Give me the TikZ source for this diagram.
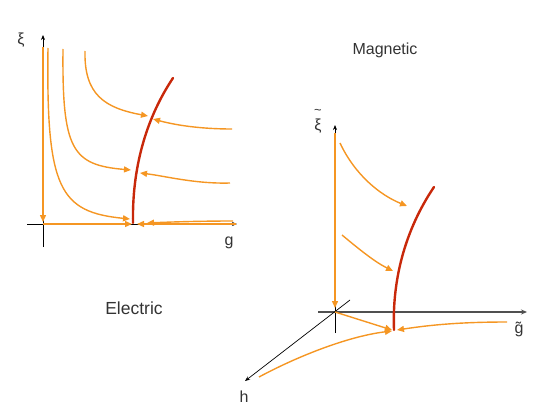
\documentclass[tikz,border=0pt]{standalone}
\usepackage{fontspec}
\setmainfont{Liberation Sans}
\usetikzlibrary{arrows.meta}
\definecolor{flow}{RGB}{245,150,35}
\definecolor{crit}{RGB}{200,40,10}
\definecolor{axgray}{RGB}{80,80,80}
\tikzset{
  axisline/.style={draw=black, line width=0.7pt, -{Stealth[length=5pt,width=4pt]}},
  axisgray/.style={draw=axgray, line width=1.3pt, -{Stealth[length=6pt,width=5pt]}},
  flowline/.style={draw=flow, line width=1.4pt, -{Triangle[length=7pt,width=6pt]}},
  critline/.style={draw=crit, line width=2.4pt, line cap=round},
  lbl/.style={font=\fontsize{16}{18}\selectfont, text=black!80, inner sep=0pt},
  biglbl/.style={font=\fontsize{17.5}{20}\selectfont, text=black!80, inner sep=0pt},
  tildelbl/.style={font=\fontsize{13}{14}\selectfont, text=black!80, inner sep=0pt},
}
\begin{document}
\begin{tikzpicture}[x=1pt,y=-1pt]
\useasboundingbox (0,0) rectangle (545,409);
% ---------------- left panel (Electric) ----------------
\coordinate (LgS) at (27,224);   \coordinate (LgE) at (237,224);
\coordinate (LxS) at (43,247);   \coordinate (LxE) at (43,35);
\draw[axisline] (LgS) -- (LgE);
\draw[axisline] (LxS) -- (LxE);
\coordinate (LvS) at (43,47);  \coordinate (LvE) at (43,222);
\coordinate (LO) at (43,224);  \coordinate (LhE) at (132,224);
\draw[flowline] (LvS) -- (LvE);
\draw[flowline] (LO) -- (LhE);
% left flows from top
\coordinate (a1) at (48,48);  \coordinate (b1) at (130,219);
\coordinate (a2) at (63,49);  \coordinate (b2) at (131,170);
\coordinate (a3) at (85,51);  \coordinate (b3) at (148,116);
\draw[flowline] (a1) .. controls (46,190) and (60,212) .. (b1);
\draw[flowline] (a2) .. controls (62,150) and (72,165) .. (b2);
\draw[flowline] (a3) .. controls (84,95) and (105,108) .. (b3);
% left flows from right
\coordinate (c1) at (232,129); \coordinate (d1) at (153,119);
\coordinate (c2) at (230,183); \coordinate (d2) at (140,173);
\coordinate (c3) at (233,221); \coordinate (d3) at (147,223);
\coordinate (c4) at (236,224); \coordinate (d4) at (137,224);
\draw[flowline] (c1) .. controls (200,129) and (175,125) .. (d1);
\draw[flowline] (c2) .. controls (195,184) and (165,176) .. (d2);
\draw[flowline] (c3) .. controls (200,221) and (170,222) .. (d3);
\draw[flowline] (c4) -- (d4);
% left critical line
\coordinate (rS) at (133,223); \coordinate (rE) at (173,78);
\draw[critline] (rS) .. controls (132,170) and (145,120) .. (rE);
\node[lbl] (xi) at (21,40) {ξ};
\node[lbl] (g) at (229,243) {g};
\node[biglbl] (elec) at (134,308) {Electric};
% ---------------- right panel (Magnetic) ----------------
\coordinate (RxS) at (335,333); \coordinate (RxE) at (335,125);
\coordinate (RgS) at (318,312); \coordinate (RgE) at (527,312);
\coordinate (RhS) at (350,300); \coordinate (RhE) at (245,381);
\draw[axisline] (RxS) -- (RxE);
\draw[axisgray] (RgS) -- (RgE);
\draw[axisline] (RhS) -- (RhE);
\coordinate (RvS) at (335,133); \coordinate (RvE) at (335,308);
\coordinate (RO) at (335,312);  \coordinate (Rp) at (392,330);
\draw[flowline] (RvS) -- (RvE);
\draw[flowline] (RO) -- (Rp);
\coordinate (e1) at (340,143); \coordinate (f1) at (407,206);
\coordinate (e2) at (342,235); \coordinate (f2) at (393,271);
\coordinate (e3) at (259,377); \coordinate (f3) at (392,331);
\coordinate (e4) at (507,322); \coordinate (f4) at (397,330);
\draw[flowline] (e1) .. controls (355,175) and (380,195) .. (f1);
\draw[flowline] (e2) .. controls (360,250) and (375,262) .. (f2);
\draw[flowline] (e3) .. controls (300,355) and (350,336) .. (f3);
\draw[flowline] (e4) .. controls (460,322) and (430,325) .. (f4);
\coordinate (sS) at (394,330); \coordinate (sE) at (434,187);
\draw[critline] (sS) .. controls (392,280) and (405,230) .. (sE);
\node[lbl] (xit) at (318,126) {ξ};
\node[tildelbl] (xitilde) at (318,112) {\textasciitilde};
\node[lbl] (gt) at (519,329) {\~{g}};
\node[lbl] (h) at (244,397) {h};
\node[lbl] (mag) at (385,50) {Magnetic};
\end{tikzpicture}
\end{document}
